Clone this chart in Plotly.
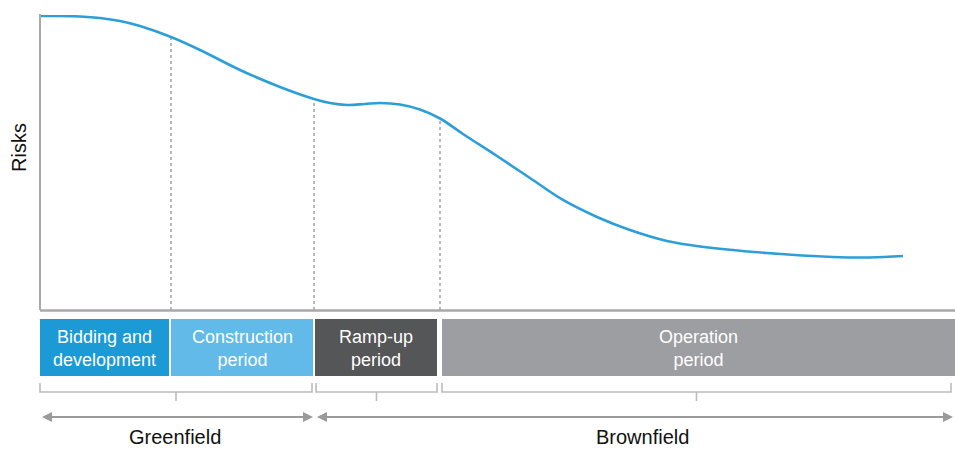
import plotly.graph_objects as go

W, H = 955, 449

# ---- data ----
time_x = [40, 60, 80, 100, 120, 140, 171, 200, 240, 280, 314, 330, 347, 365, 380, 400, 420, 440,
          463, 497, 530, 563, 597, 630, 667, 700, 767, 833, 870, 903]
risk_px = [16, 16, 16.5, 18, 21, 26, 37, 50, 70, 87, 99, 103, 105, 104, 103, 104.5, 109.5, 118.5,
           134, 156, 178, 200, 217, 230, 241, 246.5, 253, 257, 257.5, 256]
# convert picture rows to risk on a 0-100 scale (0 = time axis, 100 = top of risk axis)
AX_BOTTOM, AX_TOP = 310, 15
risk = [round((AX_BOTTOM - p) / (AX_BOTTOM - AX_TOP) * 100, 2) for p in risk_px]

phase_names = ["Bidding and<br>development", "Construction<br>period", "Ramp-up<br>period", "Operation<br>period"]
phase_start = [40, 171, 315, 442]
phase_end = [169, 313, 437, 955]
phase_colors = ["#1b9ad6", "#62bae8", "#555658", "#9d9ea1"]
boundaries = [171, 314, 440]

group_names = ["Greenfield", "Brownfield"]
group_start = [42, 317]
group_end = [313, 953]
group_label_x = [175, 642]

bracket_start = [40, 316, 442]
bracket_end = [312, 437, 951]


def py(p):
    """picture row -> paper y"""
    return (H - p) / H


fig = go.Figure()

# dotted boundary lines from the curve down to the time axis
for b in boundaries:
    i = time_x.index(b)
    fig.add_trace(go.Scatter(x=[b, b], y=[0, risk[i]], mode="lines",
                             line=dict(color="#b8b8b8", width=2, dash="dot"),
                             hoverinfo="skip", showlegend=False))

# risk curve
fig.add_trace(go.Scatter(x=time_x, y=risk, mode="lines", line_shape="spline",
                         line=dict(color="#2c9fd9", width=2.6), showlegend=False))

shapes = []
# axes
shapes.append(dict(type="line", xref="x", yref="paper", x0=40, x1=40, y0=py(AX_TOP - 1), y1=py(AX_BOTTOM),
                   line=dict(color="#a8a8a8", width=2)))
shapes.append(dict(type="line", xref="x", yref="paper", x0=40, x1=955, y0=py(AX_BOTTOM + 0.5), y1=py(AX_BOTTOM + 0.5),
                   line=dict(color="#a8a8a8", width=2.5)))

# phase boxes
for s, e, c in zip(phase_start, phase_end, phase_colors):
    shapes.append(dict(type="rect", xref="x", yref="paper", x0=s, x1=e, y0=py(376), y1=py(319),
                       fillcolor=c, line=dict(width=0), layer="below"))

# brackets
for s, e in zip(bracket_start, bracket_end):
    m = (s + e) / 2
    path = (f"M {s},{py(383)} L {s},{py(392)} L {e},{py(392)} L {e},{py(383)} "
            f"M {m},{py(392)} L {m},{py(401)}")
    shapes.append(dict(type="path", xref="x", yref="paper", path=path,
                       line=dict(color="#bcbcbc", width=1.6)))

# double arrows
ya = py(417)
hl, hh = 10, 5 / H
for s, e in zip(group_start, group_end):
    shapes.append(dict(type="line", xref="x", yref="paper", x0=s + 4, x1=e - 4, y0=ya, y1=ya,
                       line=dict(color="#9a9a9a", width=2)))
    shapes.append(dict(type="path", xref="x", yref="paper",
                       path=f"M {s},{ya} L {s + hl},{ya + hh} L {s + hl},{ya - hh} Z",
                       fillcolor="#9a9a9a", line=dict(width=0)))
    shapes.append(dict(type="path", xref="x", yref="paper",
                       path=f"M {e},{ya} L {e - hl},{ya + hh} L {e - hl},{ya - hh} Z",
                       fillcolor="#9a9a9a", line=dict(width=0)))

annotations = []
FONT = "Liberation Sans, Arial, sans-serif"
for name, s, e in zip(phase_names, phase_start, phase_end):
    annotations.append(dict(x=(s + e) / 2, y=py(348), xref="x", yref="paper", text=name, showarrow=False,
                            yanchor="middle", xanchor="center",
                            font=dict(family=FONT, size=18, color="white"), align="center"))
for name, x in zip(group_names, group_label_x):
    annotations.append(dict(x=x, y=py(437), xref="x", yref="paper", text=name, showarrow=False,
                            yanchor="middle", xanchor="center", borderpad=0,
                            font=dict(family=FONT, size=20, color="#111111")))
annotations.append(dict(x=19, y=py(148), xref="x", yref="paper", text="Risks", textangle=-90, showarrow=False,
                        yanchor="middle", xanchor="center",
                        font=dict(family=FONT, size=20, color="#111111")))
annotations.append(dict(x=956, y=py(298), xref="x", yref="paper", text="Time", showarrow=False,
                        xanchor="right", yanchor="middle",
                        font=dict(family=FONT, size=20, color="#111111")))

fig.update_layout(
    width=W, height=H, margin=dict(l=0, r=0, t=0, b=0),
    paper_bgcolor="white", plot_bgcolor="white",
    xaxis=dict(range=[0, W], visible=False, fixedrange=True),
    yaxis=dict(range=[0, 100], domain=[py(AX_BOTTOM), py(AX_TOP)], visible=False, fixedrange=True),
    shapes=shapes, annotations=annotations, showlegend=False,
)

fig.write_html("out.html", config={"displayModeBar": False})
